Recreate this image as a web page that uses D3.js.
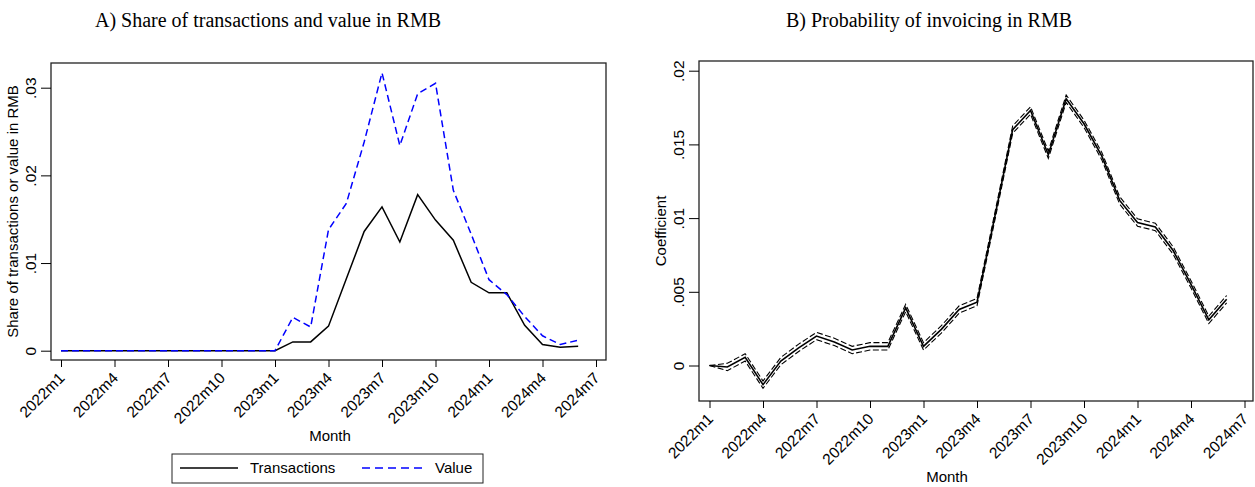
<!DOCTYPE html>
<html>
<head>
<meta charset="utf-8">
<script src="https://cdn.jsdelivr.net/npm/d3@7"></script>
<style>
  body { margin: 0; background: #fff; }
  svg { display: block; }
  .tick text { font-family: "Liberation Sans", Arial, sans-serif; font-size: 15.5px; fill: #000; }
  .tick line { stroke: #000; }
  .axis-title { font-family: "Liberation Sans", Arial, sans-serif; font-size: 15px; fill: #000; }
  .panel-title { font-family: "Liberation Serif", "Times New Roman", serif; font-size: 20px; fill: #000; }
</style>
</head>
<body>
<svg id="chart"></svg>
<script>
// Months on the x axis (one entry per observation)
const months = ['2022m1','2022m2','2022m3','2022m4','2022m5','2022m6','2022m7','2022m8','2022m9','2022m10','2022m11','2022m12',
  '2023m1','2023m2','2023m3','2023m4','2023m5','2023m6','2023m7','2023m8','2023m9','2023m10','2023m11','2023m12',
  '2024m1','2024m2','2024m3','2024m4','2024m5','2024m6'];
const xTickLabels = ['2022m1','2022m4','2022m7','2022m10','2023m1','2023m4','2023m7','2023m10','2024m1','2024m4','2024m7'];

// Panel A: share of transactions / value invoiced in RMB
const transactions = [0,0,0,0,0,0,0,0,0,0,0,0,
  0,0.0010,0.0010,0.0028,0.0082,0.0136,0.0164,0.0124,0.0178,0.0149,0.0126,0.0078,
  0.0066,0.0066,0.0029,0.0007,0.0004,0.0005];
const value = [0,0,0,0,0,0,0,0,0,0,0,0,
  0,0.0038,0.0027,0.0138,0.0168,0.0238,0.0317,0.0234,0.0293,0.0305,0.0183,0.0133,
  0.0081,0.0064,0.0039,0.0017,0.0007,0.0012];
const yTicksA = [0, 0.01, 0.02, 0.03];
const yTickLabelsA = ['0', '.01', '.02', '.03'];

// Panel B: coefficient with confidence band
const coef = [0,-0.0001,0.00055,-0.0013,0.0003,0.0012,0.0020,0.0016,0.00105,0.0013,0.0013,0.0039,
  0.0013,0.00245,0.0038,0.0043,0.0101,0.0160,0.0173,0.0143,0.0181,0.0164,0.0142,0.0112,
  0.0097,0.0094,0.0078,0.0055,0.0031,0.0045];
const upper = [0,0.00015,0.0008,-0.00105,0.00055,0.00145,0.00225,0.00185,0.0013,0.00155,0.00155,0.00415,
  0.00155,0.0027,0.00405,0.00455,0.01035,0.01625,0.01755,0.01455,0.01835,0.01665,0.01445,0.01145,
  0.00995,0.00965,0.00805,0.00575,0.00335,0.00475];
const lower = [0,-0.00035,0.0003,-0.00155,0.00005,0.00095,0.00175,0.00135,0.0008,0.00105,0.00105,0.00365,
  0.00105,0.0022,0.00355,0.00405,0.00985,0.01575,0.01705,0.01405,0.01785,0.01615,0.01395,0.01095,
  0.00945,0.00915,0.00755,0.00525,0.00285,0.00425];
const yTicksB = [0, 0.005, 0.01, 0.015, 0.02];
const yTickLabelsB = ['0', '.005', '.01', '.015', '.02'];

const svg = d3.select('#chart').attr('width', 1255).attr('height', 487);

// Draws frame, axes and titles for one panel, returns scales
function drawPanel(cfg) {
  const g = svg.append('g');

  // x scale: month index, ticks every 3 months up to 2024m7
  const x = d3.scaleLinear().domain([0, 30]).range(cfg.xRange);
  const y = d3.scaleLinear().domain([0, cfg.yMax]).range(cfg.yRange);

  g.append('rect')
    .attr('x', cfg.frame.x0).attr('y', cfg.frame.y0)
    .attr('width', cfg.frame.x1 - cfg.frame.x0)
    .attr('height', cfg.frame.y1 - cfg.frame.y0)
    .attr('fill', 'none').attr('stroke', '#222').attr('stroke-width', 1.3);

  const xAxis = d3.axisBottom(x)
    .tickValues(xTickLabels.map((d, i) => i * 3))
    .tickFormat((d, i) => xTickLabels[i])
    .tickSize(7).tickSizeOuter(0);

  g.append('g')
    .attr('transform', `translate(0,${cfg.frame.y1})`)
    .call(xAxis)
    .call(a => a.select('.domain').remove())
    .selectAll('text')
    .attr('x', 0).attr('y', 0).attr('dy', 0)
    .attr('text-anchor', 'end')
    .attr('transform', 'translate(4,19) rotate(-45)');

  const yAxis = d3.axisLeft(y)
    .tickValues(cfg.yTicks)
    .tickFormat((d, i) => cfg.yTickLabels[i])
    .tickSize(10).tickSizeOuter(0);

  g.append('g')
    .attr('transform', `translate(${cfg.frame.x0},0)`)
    .call(yAxis)
    .call(a => a.select('.domain').remove())
    .selectAll('text')
    .attr('x', 0).attr('y', 0).attr('dy', '0.35em')
    .attr('text-anchor', 'middle')
    .attr('transform', 'translate(-20,0) rotate(-90)');

  // y-axis title
  g.append('text')
    .attr('class', 'axis-title')
    .attr('text-anchor', 'middle')
    .attr('dy', '0.35em')
    .attr('transform', `translate(${cfg.frame.x0 - 38},${(cfg.frame.y0 + cfg.frame.y1) / 2}) rotate(-90)`)
    .text(cfg.yTitle);

  // x-axis title
  g.append('text')
    .attr('class', 'axis-title')
    .attr('text-anchor', 'middle')
    .attr('x', cfg.monthX).attr('y', cfg.monthY)
    .text('Month');

  // panel title
  g.append('text')
    .attr('class', 'panel-title')
    .attr('text-anchor', 'middle')
    .attr('x', cfg.titleX).attr('y', 27)
    .text(cfg.title);

  return { g, x, y };
}

// ---- Panel A ----
const A = drawPanel({
  frame: { x0: 51, y0: 63, x1: 606, y1: 360 },
  xRange: [61, 596],
  yRange: [350.7, 87.7],
  yMax: 0.03,
  yTicks: yTicksA,
  yTickLabels: yTickLabelsA,
  yTitle: 'Share of transactions or value in RMB',
  monthX: 330, monthY: 441,
  titleX: 268,
  title: 'A) Share of transactions and value in RMB'
});

const lineA = d3.line().x((d, i) => A.x(i)).y(d => A.y(d));

A.g.append('path')
  .datum(transactions)
  .attr('d', lineA)
  .attr('fill', 'none').attr('stroke', '#000').attr('stroke-width', 1.5);

A.g.append('path')
  .datum(value)
  .attr('d', lineA)
  .attr('fill', 'none').attr('stroke', '#0000ff').attr('stroke-width', 1.5)
  .attr('stroke-dasharray', '7,4');

// Legend
const legend = A.g.append('g');
legend.append('rect')
  .attr('x', 172).attr('y', 454).attr('width', 311).attr('height', 29)
  .attr('fill', '#fff').attr('stroke', '#222').attr('stroke-width', 1);
legend.append('line')
  .attr('x1', 180).attr('x2', 238).attr('y1', 468).attr('y2', 468)
  .attr('stroke', '#000').attr('stroke-width', 1.5);
legend.append('text')
  .attr('class', 'axis-title')
  .attr('x', 250).attr('y', 468).attr('dy', '0.35em')
  .text('Transactions');
legend.append('line')
  .attr('x1', 362).attr('x2', 427).attr('y1', 468).attr('y2', 468)
  .attr('stroke', '#0000ff').attr('stroke-width', 1.5)
  .attr('stroke-dasharray', '8,5');
legend.append('text')
  .attr('class', 'axis-title')
  .attr('x', 435).attr('y', 468).attr('dy', '0.35em')
  .text('Value');

// ---- Panel B ----
const B = drawPanel({
  frame: { x0: 699, y0: 61, x1: 1253, y1: 401 },
  xRange: [709.5, 1244.5],
  yRange: [365.5, 70.7],
  yMax: 0.02,
  yTicks: yTicksB,
  yTickLabels: yTickLabelsB,
  yTitle: 'Coefficient',
  monthX: 947, monthY: 482,
  titleX: 929,
  title: 'B) Probability of invoicing in RMB'
});

const lineB = d3.line().x((d, i) => B.x(i)).y(d => B.y(d));

[upper, lower].forEach(series => {
  B.g.append('path')
    .datum(series)
    .attr('d', lineB)
    .attr('fill', 'none').attr('stroke', '#000').attr('stroke-width', 1.1)
    .attr('stroke-dasharray', '6,2.5');
});

B.g.append('path')
  .datum(coef)
  .attr('d', lineB)
  .attr('fill', 'none').attr('stroke', '#000').attr('stroke-width', 1.6);
</script>
</body>
</html>
